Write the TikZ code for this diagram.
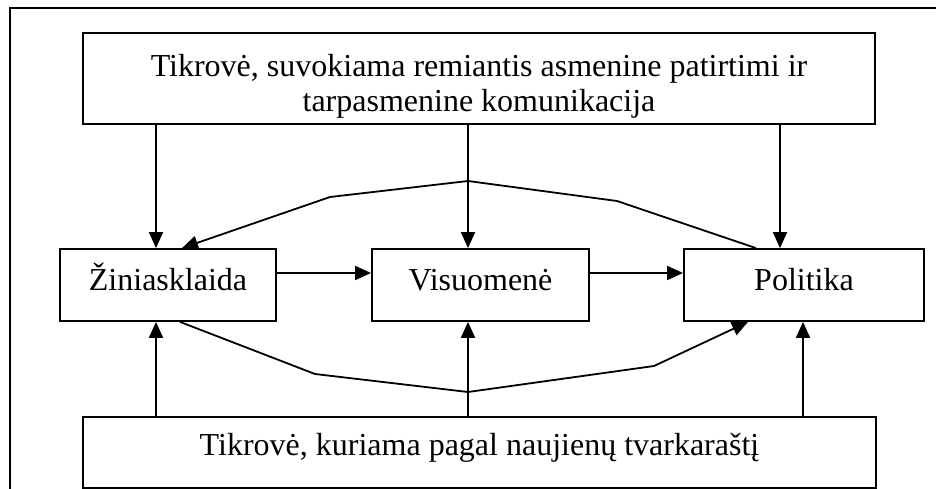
\documentclass[tikz,border=0pt]{standalone}
\usepackage{fontspec}
\setmainfont{Liberation Serif}
\usetikzlibrary{arrows.meta}
\begin{document}
\begin{tikzpicture}[x=1pt,y=-1pt,
  box/.style={draw,line width=1.8pt,rectangle,inner sep=0pt},
  lbl/.style={font=\fontsize{32}{35}\selectfont,align=center,inner sep=0pt},
  midbox/.style={box,lbl,minimum height=72pt,text height=26pt,text depth=16pt},
  arr/.style={line width=1.8pt,-{Triangle[length=16pt,width=14pt]}}]
\useasboundingbox (0,0) rectangle (936,489);
% open frame around the scheme
\draw[line width=2.4pt] (10,489) -- (10,8) -- (936,8);

% boxes
\node[box,minimum width=792pt,minimum height=91pt] (top) at (479,78.5) {};
\node[lbl] (toptext) at ([yshift=-8pt]top.center)
  {Tikrovė, suvokiama remiantis asmenine patirtimi ir\\tarpasmenine komunikacija};
\node[midbox,minimum width=216pt] (zin) at (168,285) {Žiniasklaida};
\node[midbox,minimum width=217pt] (vis) at (480.5,285) {Visuomenė};
\node[midbox,minimum width=240pt] (pol) at (804,285) {Politika};
\node[box,lbl,minimum width=793pt,minimum height=71pt,text height=24pt,text depth=19pt] (bot) at (479.5,452.5)
  {Tikrovė, kuriama pagal naujienų tvarkaraštį};

% column positions of the vertical links
\coordinate (xa) at (156,0);
\coordinate (xb) at (468,0);
\coordinate (xc) at (780,0);
\coordinate (xd) at (803,0);
\coordinate (ya) at (0,273);

% reality from experience acts on all three
\draw[arr] (top.south -| xa) -- (zin.north -| xa);
\draw[arr] (top.south -| xb) -- (vis.north -| xb);
\draw[arr] (top.south -| xc) -- (pol.north -| xc);

% agenda reality acts on all three
\draw[arr] (bot.north -| xa) -- (zin.south -| xa);
\draw[arr] (bot.north -| xb) -- (vis.south -| xb);
\draw[arr] (bot.north -| xd) -- (pol.south -| xd);

% chain media -> public -> politics
\draw[arr] (zin.east |- ya) -- (vis.west |- ya);
\draw[arr] (vis.east |- ya) -- (pol.west |- ya);

% feedback from politics to media over the top
\coordinate (pu) at (756,0);
\coordinate (zu) at (182,0);
\coordinate (t1) at (617,201);
\coordinate (t2) at (468,181);
\coordinate (t3) at (330,197);
\draw[arr] (pol.north -| pu) -- (t1) -- (t2) -- (t3) -- (zin.north -| zu);

% media to politics underneath
\coordinate (zd) at (180,0);
\coordinate (pd) at (748,0);
\coordinate (b1) at (315,374);
\coordinate (b2) at (468,392);
\coordinate (b3) at (654,366);
\draw[arr] (zin.south -| zd) -- (b1) -- (b2) -- (b3) -- (pol.south -| pd);
\end{tikzpicture}
\end{document}
